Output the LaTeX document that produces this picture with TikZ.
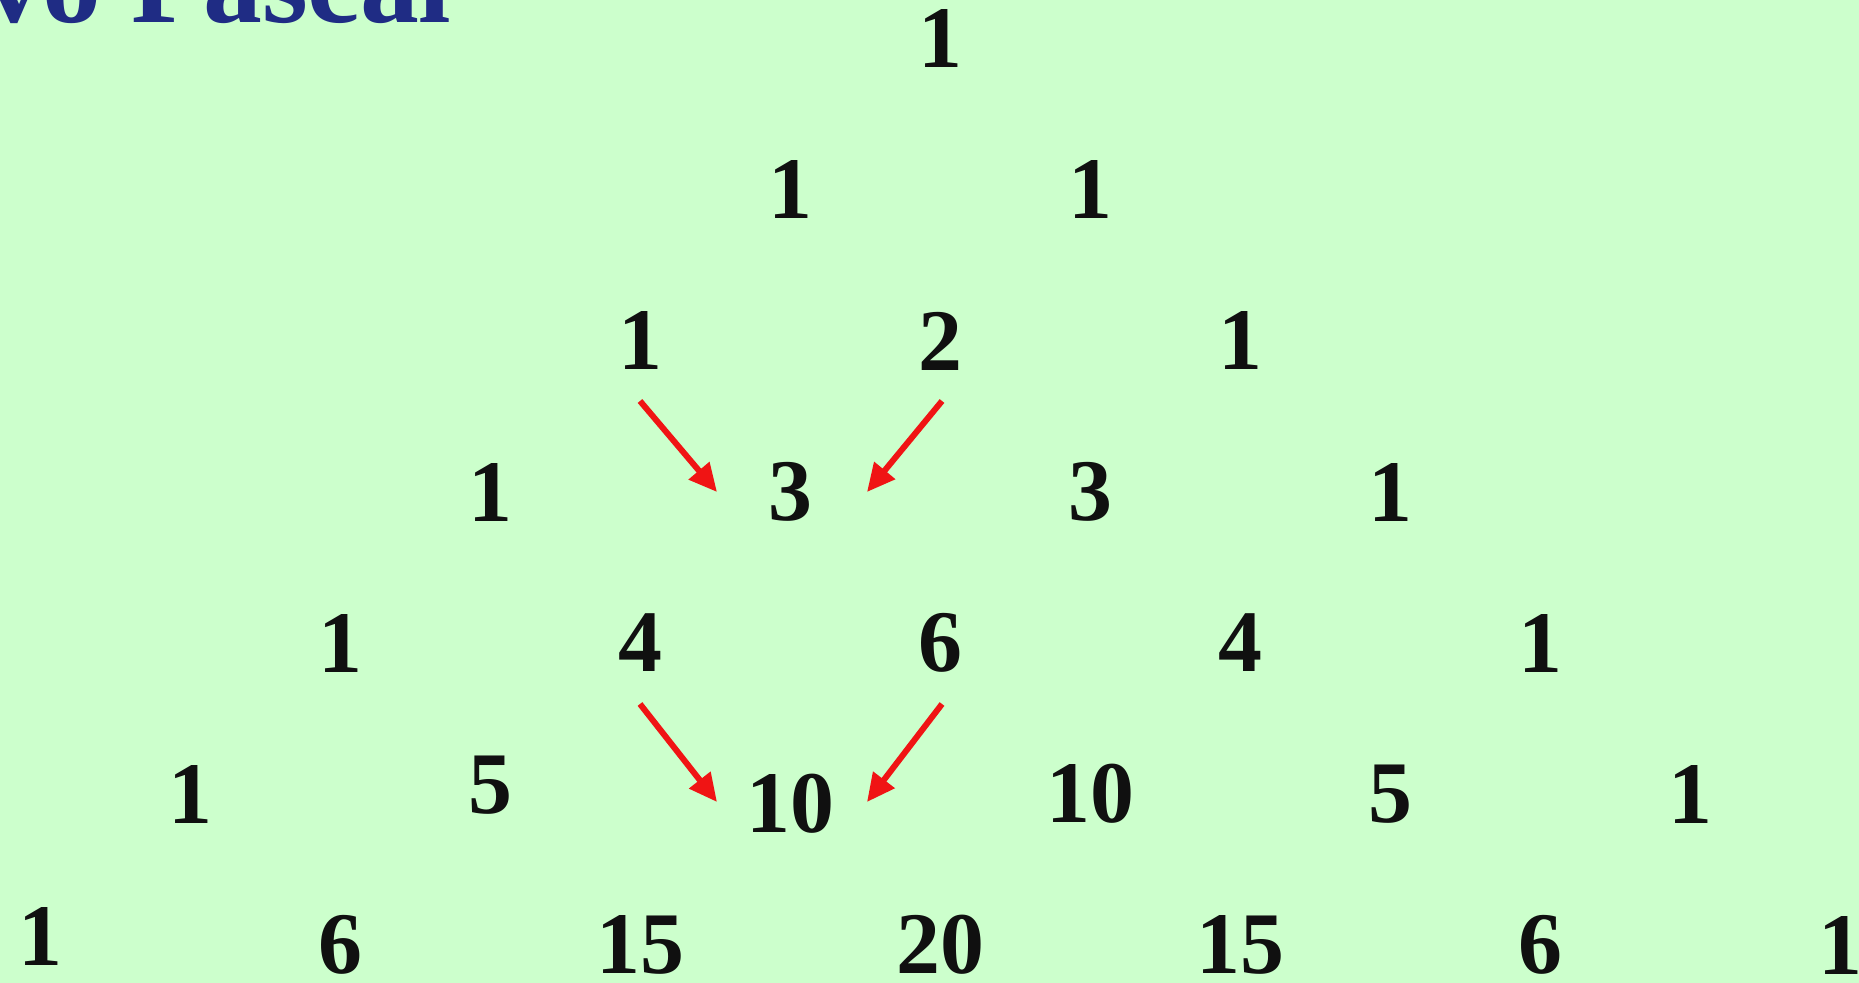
\documentclass[tikz,border=0pt]{standalone}
\usepackage{fontspec}
\setmainfont{Liberation Serif}
\usetikzlibrary{positioning,calc,arrows.meta}
\definecolor{triBg}{HTML}{CCFFCC}
\definecolor{triTitle}{HTML}{1F2C84}
\definecolor{triNum}{HTML}{101010}
\definecolor{triArrow}{HTML}{F01414}
\tikzset{
  num node/.style={
    inner sep=0pt, text=triNum,
    font=\fontsize{50}{50}\selectfont\bfseries,
  },
  title node/.style={
    inner sep=0pt, text=triTitle,
    font=\fontsize{67}{67}\selectfont\bfseries,
  },
  sum arrow/.style={
    -{Triangle[length=0.56cm, width=0.52cm]},
    line width=0.12cm, color=triArrow,
  },
}
\begin{document}
\begin{tikzpicture}[x=0.02cm, y=-0.02cm]

% --- CANVAS ---
\useasboundingbox (0,0) rectangle (1859,983);
\fill[triBg] (0,0) rectangle (1859,983);
\clip (0,0) rectangle (1859,983);

% --- PARAMETERS ---
% row/col/value/vertical nudge
\def\entries{%
  0/0/1/0,%
  1/0/1/0, 1/1/1/0,%
  2/0/1/0, 2/1/2/0, 2/2/1/0,%
  3/0/1/0, 3/1/3/0, 3/2/3/0, 3/3/1/0,%
  4/0/1/0, 4/1/4/0, 4/2/6/0, 4/3/4/0, 4/4/1/0,%
  5/0/1/0, 5/1/5/-9, 5/2/10/10, 5/3/10/0, 5/4/5/0, 5/5/1/0,%
  6/0/1/-9, 6/1/6/0, 6/2/15/0, 6/3/20/0, 6/4/15/0, 6/5/6/0, 6/6/1/0%
}
\def\xC{940}
\def\yO{39}
\def\colGap{300}
\def\rowGap{151}

% --- TITLE (cut by the page edge) ---
\node[title node, anchor=base east] (title) at (452,23) {vo Pascal};

% --- NUMBERS ---
\foreach \r/\k/\val/\dy in \entries {
  \pgfmathsetmacro\cx{\xC + (\k - \r/2) * \colGap}
  \pgfmathsetmacro\cy{\yO + \r * \rowGap + \dy}
  \node[num node] (p\r\k) at (\cx, \cy) {\val};
}

% --- ARROWS ---
\draw[sum arrow] ($(p20)+(0,60)$) -- ($(p31)+(-73,0)$);
\draw[sum arrow] ($(p21)+(2,60)$) -- ($(p31)+(77,0)$);
\draw[sum arrow] ($(p41)+(0,61)$) -- ($(p52)+(-73,-2)$);
\draw[sum arrow] ($(p42)+(2,61)$) -- ($(p52)+(77,-2)$);

\end{tikzpicture}
\end{document}
